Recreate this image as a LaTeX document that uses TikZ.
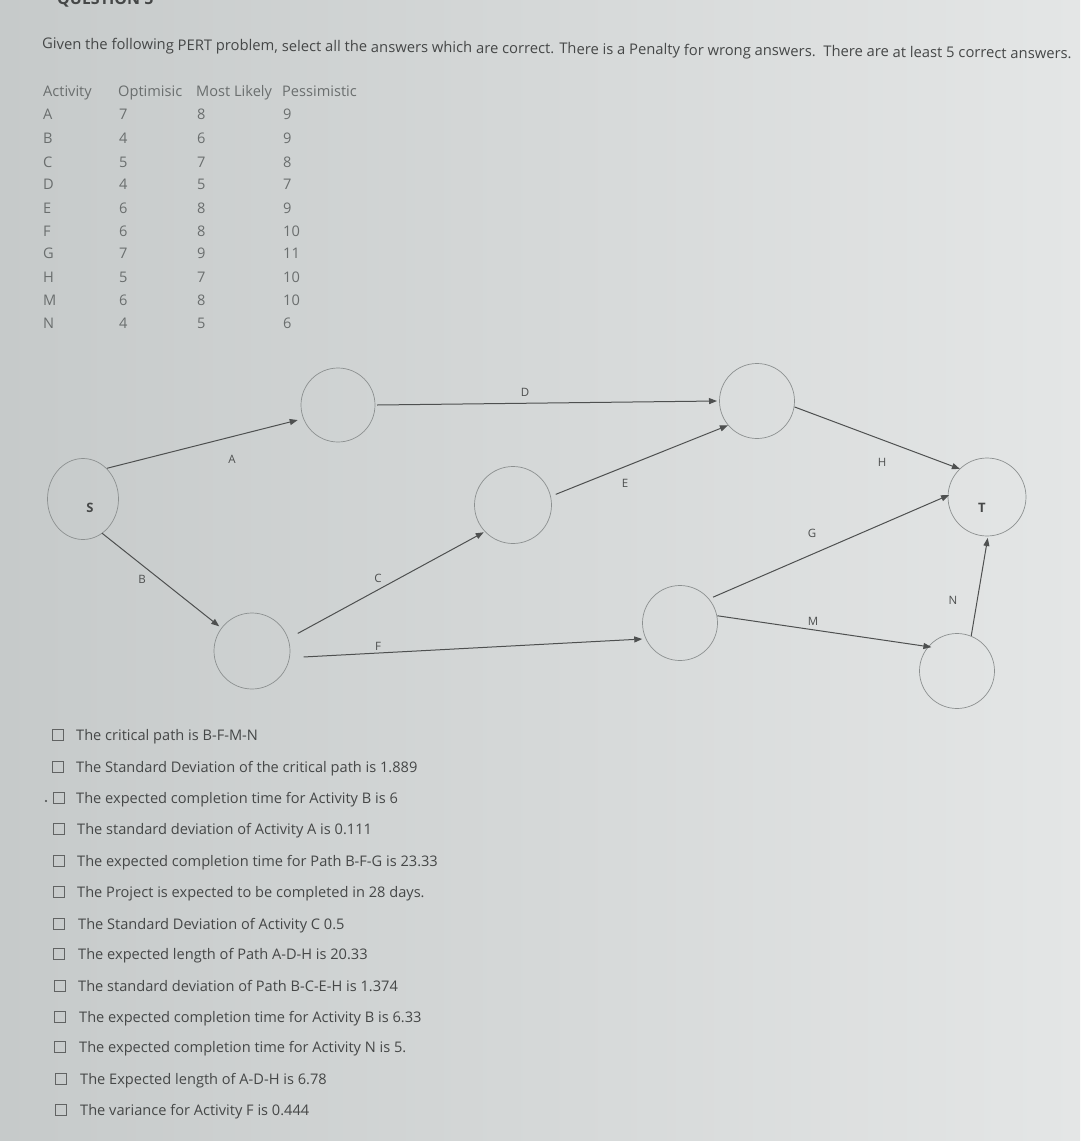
\documentclass[tikz,border=0pt]{standalone}
\usepackage{fontspec}
\setmainfont{Open Sans}
\usetikzlibrary{arrows.meta,shapes.geometric}
\definecolor{bgl}{HTML}{C6CACA}
\definecolor{bgr}{HTML}{E4E6E6}
\definecolor{txt}{HTML}{454747}
\definecolor{tbl}{HTML}{6A6E6E}
\definecolor{ln}{HTML}{4E5050}
\definecolor{circ}{HTML}{8C9090}
\begin{document}
\begin{tikzpicture}[x=1pt,y=-1pt,
 ev/.style={circle,draw=circ,line width=0.7pt,minimum size=76pt,inner sep=0pt},
 act/.style={draw=ln,line width=1pt,-{Triangle[length=8pt,width=6pt]}},
 elab/.style={font=\fontsize{11.5}{12}\selectfont,text=ln,inner sep=0pt},
 nlab/.style={font=\fontsize{13}{14}\selectfont\bfseries,text=ln!90!black,inner sep=0pt},
 tb/.style={anchor=base west,font=\fontsize{14.6}{15}\selectfont,text=tbl,inner sep=0pt},
 opt/.style={anchor=base west,font=\fontsize{14.6}{15}\selectfont,text=txt,inner sep=0pt},
 chk/.style={draw=txt!85,line width=0.9pt,minimum size=10.5pt,inner sep=0pt}]
\useasboundingbox (0,0) rectangle (1080,1141);
\clip (0,0) rectangle (1080,1141);
\shade[left color=bgl,right color=bgr] (0,0) rectangle (1080,1141);

% cut-off heading
\node[anchor=base west,font=\fontsize{16}{16}\selectfont\bfseries,text=txt,inner sep=0pt] (qh) at (57,4) {QUESTION 5};

% title
\node[anchor=west,rotate=-0.55,font=\fontsize{14.75}{16}\selectfont,text=txt,inner sep=0pt] (title) at (42,45)
 {Given the following PERT problem, select all the answers which are correct. There is a Penalty for wrong answers.\ \ There are at least 5 correct answers.};

% table
\node[tb] (h0) at (43,96) {Activity};
\node[tb] (h1) at (118,96) {Optimisic};
\node[tb] (h2) at (196,96) {Most Likely};
\node[tb] (h3) at (282,96) {Pessimistic};
\foreach \a/\o/\m/\p/\y [count=\i] in {A/7/8/9/119, B/4/6/9/143, C/5/7/8/167, D/4/5/7/189, E/6/8/9/213, F/6/8/10/236, G/7/9/11/258, H/5/7/10/282, M/6/8/10/305, N/4/5/6/328}{
 \node[tb] (ra\i) at (43,\y) {\a};
 \node[tb] (ro\i) at (119,\y) {\o};
 \node[tb] (rm\i) at (197,\y) {\m};
 \node[tb] (rp\i) at (283,\y) {\p};
}

% network nodes
\node[ellipse,draw=circ,line width=0.7pt,minimum width=71pt,minimum height=81pt,inner sep=0pt,
      label={[nlab,xshift=7pt,yshift=-9pt]center:S}] (S) at (83,499) {};
\node[ev,minimum size=74pt] (nA) at (338,405) {};
\node[ev] (nB) at (252,651) {};
\node[ev,minimum size=77pt] (nC) at (513,505) {};
\node[ev,minimum size=75pt] (nD) at (757,401) {};
\node[ev,minimum size=78pt,label={[nlab,xshift=-5pt,yshift=-11pt]center:T}] (nT) at (987,497) {};
\node[ev,minimum size=75pt] (nG) at (680,623) {};
\node[ev,minimum size=75pt] (nN) at (957,671) {};

% activities
\draw[act] ([shift={(52:39pt)}]S.center) -- ([shift={(200.5:43pt)}]nA.center);
\draw[act] ([shift={(-61:39pt)}]S.center) -- ([shift={(143:41pt)}]nB.center);
\draw[act] ([shift={(21:49pt)}]nB.center) -- ([shift={(223:40pt)}]nC.center);
\draw[act] ([shift={(-6.6:52pt)}]nB.center) -- ([shift={(203:41pt)}]nG.center);
\draw[act] ([shift={(0:39pt)}]nA.center) -- ([shift={(180:40pt)}]nD.center);
\draw[act] ([shift={(14:44pt)}]nC.center) -- ([shift={(220:38pt)}]nD.center);
\draw[act] ([shift={(-9:38pt)}]nD.center) -- ([shift={(134:39pt)}]nT.center);
\draw[act] ([shift={(38:42pt)}]nG.center) -- ([shift={(177:38pt)}]nT.center);
\draw[act] ([shift={(11:38pt)}]nG.center) -- ([shift={(137:35pt)}]nN.center);
\draw[act] ([shift={(68:38pt)}]nN.center) -- ([shift={(-89:41pt)}]nT.center);

% activity labels
\node[elab] (lA) at (232,459) {A};
\node[elab] (lB) at (142,579) {B};
\node[elab] (lC) at (378,578) {C};
\node[elab] (lF) at (378,646) {F};
\node[elab] (lD) at (525,392) {D};
\node[elab] (lE) at (625,483) {E};
\node[elab] (lH) at (882,462) {H};
\node[elab] (lG) at (812,533) {G};
\node[elab] (lM) at (813,621) {M};
\node[elab] (lN) at (953,600) {N};

% answers
\fill[txt] (46,801) circle (1.2pt);
\foreach \t/\y/\bx/\tx [count=\i] in {
 {The critical path is B-F-M-N}/735/58/76,
 {The Standard Deviation of the critical path is 1.889}/767/58/76,
 {The expected completion time for Activity B is 6}/798/59/76,
 {The standard deviation of Activity A is 0.111}/829/59/77,
 {The expected completion time for Path B-F-G is 23.33}/861/59/77,
 {The Project is expected to be completed in 28 days.}/892/59/77,
 {The Standard Deviation of Activity C 0.5}/924/59/78,
 {The expected length of Path A-D-H is 20.33}/954/59/78,
 {The standard deviation of Path B-C-E-H is 1.374}/986/60/78,
 {The expected completion time for Activity B is 6.33}/1017/60/79,
 {The expected completion time for Activity N is 5.}/1047/60/79,
 {The Expected length of A-D-H is 6.78}/1079/61/80,
 {The variance for Activity F is 0.444}/1110/61/80}{
 \node[chk] (cb\i) at (\bx,\y) {};
 \node[opt] (ans\i) at (\tx,\y+5) {\t};
}
\end{tikzpicture}
\end{document}
